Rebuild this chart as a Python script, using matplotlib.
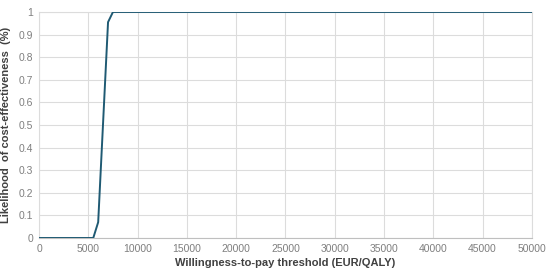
import matplotlib.pyplot as plt

plt.rcParams['font.family'] = ['Liberation Sans', 'DejaVu Sans']

# willingness-to-pay threshold and probability cost-effective
wtp = [0, 5000, 5500, 6000, 7000, 7500, 10000, 20000, 30000, 40000, 50000]
prob = [0, 0, 0, 0.07, 0.955, 1, 1, 1, 1, 1, 1]

x_ticks = list(range(0, 50001, 5000))
y_ticks = [0, 0.1, 0.2, 0.3, 0.4, 0.5, 0.6, 0.7, 0.8, 0.9, 1]
y_labels = ['0', '0.1', '0.2', '0.3', '0.4', '0.5', '0.6', '0.7', '0.8', '0.9', '1']

fig = plt.figure(figsize=(5.5, 2.72), dpi=100)
ax = fig.add_axes([0.071, 0.125, 0.896, 0.831])

ax.plot(wtp, prob, color='#1f5a73', linewidth=1.4, zorder=3)

ax.set_xlim(0, 50000)
ax.set_ylim(0, 1)
ax.set_xticks(x_ticks)
ax.set_yticks(y_ticks)
ax.set_yticklabels(y_labels)
ax.grid(True, color='#dcdcdc', linewidth=0.8)
ax.tick_params(length=0, labelsize=7.5, colors='#7f7f7f', pad=4)
for s in ax.spines.values():
    s.set_color('#dcdcdc')
    s.set_linewidth(0.8)
ax.spines['bottom'].set_color('#bfbfbf')

ax.set_xlabel('Willingness-to-pay threshold (EUR/QALY)', fontsize=8, fontweight='bold', color='#404040', labelpad=3)
ax.set_ylabel('Likelihood  of cost-effectiveness  (%)', fontsize=8, fontweight='bold', color='#404040', labelpad=6)

fig.savefig('out.png', dpi=100)
